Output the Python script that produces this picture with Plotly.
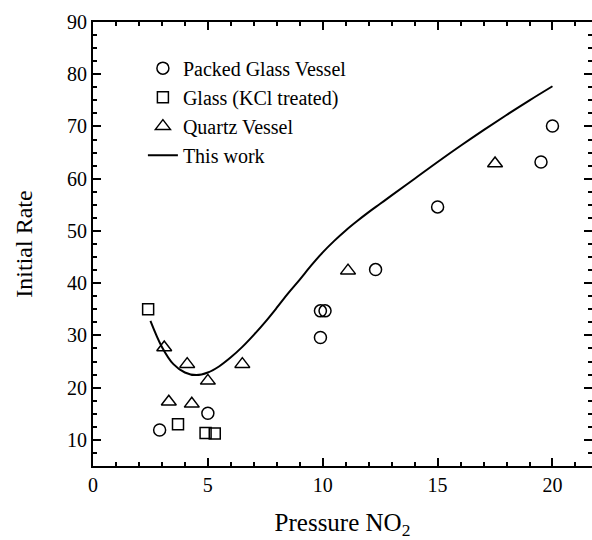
import plotly.graph_objects as go

# Packed Glass Vessel (circles)
packed_x = [2.9, 5.0, 9.9, 9.9, 10.1, 12.3, 15.0, 19.5, 20.0]
packed_y = [11.9, 15.1, 29.6, 34.7, 34.7, 42.6, 54.6, 63.2, 70.1]

# Glass (KCl treated) (squares)
kcl_x = [2.4, 3.7, 4.9, 5.3]
kcl_y = [35.0, 13.0, 11.3, 11.2]

# Quartz Vessel (triangles)
quartz_x = [3.1, 3.3, 4.1, 4.3, 5.0, 6.5, 11.1, 17.5]
quartz_y = [27.7, 17.3, 24.5, 16.9, 21.3, 24.5, 42.4, 62.9]

# This work (model curve)
model_x = [2.5, 3.0, 3.5, 4.0, 4.5, 5.0, 5.5, 6.0, 6.5, 7.0, 7.5, 8.0, 8.5, 9.0, 9.5, 10.0,
           10.5, 11.0, 11.5, 12.0, 12.5, 13.0, 14.0, 15.0, 16.0, 17.0, 18.0, 19.0, 20.0]
model_y = [32.8, 27.8, 24.5, 22.9, 22.4, 22.9, 24.1, 25.8, 27.8, 30.1, 32.6, 35.3, 38.1, 40.7,
           43.4, 45.9, 48.1, 50.1, 51.9, 53.6, 55.2, 56.8, 60.0, 63.2, 66.3, 69.3, 72.2, 75.0, 77.7]

FONT = "Liberation Serif"
mline = dict(color="black", width=1.5)

fig = go.Figure()
fig.add_trace(go.Scatter(x=packed_x, y=packed_y, mode="markers", name="Packed Glass Vessel",
                         legendgroup="a",
                         marker=dict(symbol="circle-open", size=12, color="black", line=mline)))
fig.add_trace(go.Scatter(x=kcl_x, y=kcl_y, mode="markers", name="Glass (KCl treated)",
                         legendgroup="b",
                         marker=dict(symbol="square-open", size=11, color="black", line=mline)))
fig.add_trace(go.Scatter(x=quartz_x, y=quartz_y, mode="markers", name="Quartz Vessel",
                         legendgroup="c",
                         marker=dict(symbol="triangle-up-open", size=13, color="black", line=mline)))
fig.add_trace(go.Scatter(x=model_x, y=model_y, mode="lines", name="This work",
                         legendgroup="d",
                         line=dict(color="black", width=2, shape="spline", smoothing=1.0)))

axis_common = dict(showline=True, linecolor="black", linewidth=2, mirror="allticks",
                   ticks="inside", tickcolor="black", tickwidth=1.5, ticklen=8,
                   showgrid=False, zeroline=False, automargin=False,
                   tickfont=dict(family=FONT, size=20, color="black"))

fig.update_layout(
    width=592, height=540,
    margin=dict(l=93, r=0, t=22, b=74),
    paper_bgcolor="white", plot_bgcolor="white",
    font=dict(family=FONT, color="black"),
    xaxis=dict(range=[0, 21.72], dtick=5, tick0=0,
               minor=dict(dtick=1, ticks="inside", ticklen=4, tickcolor="black", tickwidth=1.5),
               title=dict(text="Pressure NO<sub>2</sub>", font=dict(family=FONT, size=25), standoff=20),
               **axis_common),
    yaxis=dict(range=[5, 90], dtick=10, tick0=0,
               minor=dict(dtick=2.5, ticks="inside", ticklen=4, tickcolor="black", tickwidth=1.5),
               title=dict(text="Initial Rate", font=dict(family=FONT, size=24), standoff=28),
               **axis_common),
    legend=dict(x=0.1, y=0.94, xanchor="left", yanchor="top", bgcolor="rgba(0,0,0,0)",
                font=dict(family=FONT, size=20, color="black"),
                traceorder="grouped", tracegroupgap=0),
)

fig.write_html("out.html", config={"displayModeBar": False},
               post_script="document.body.style.margin='0';")
